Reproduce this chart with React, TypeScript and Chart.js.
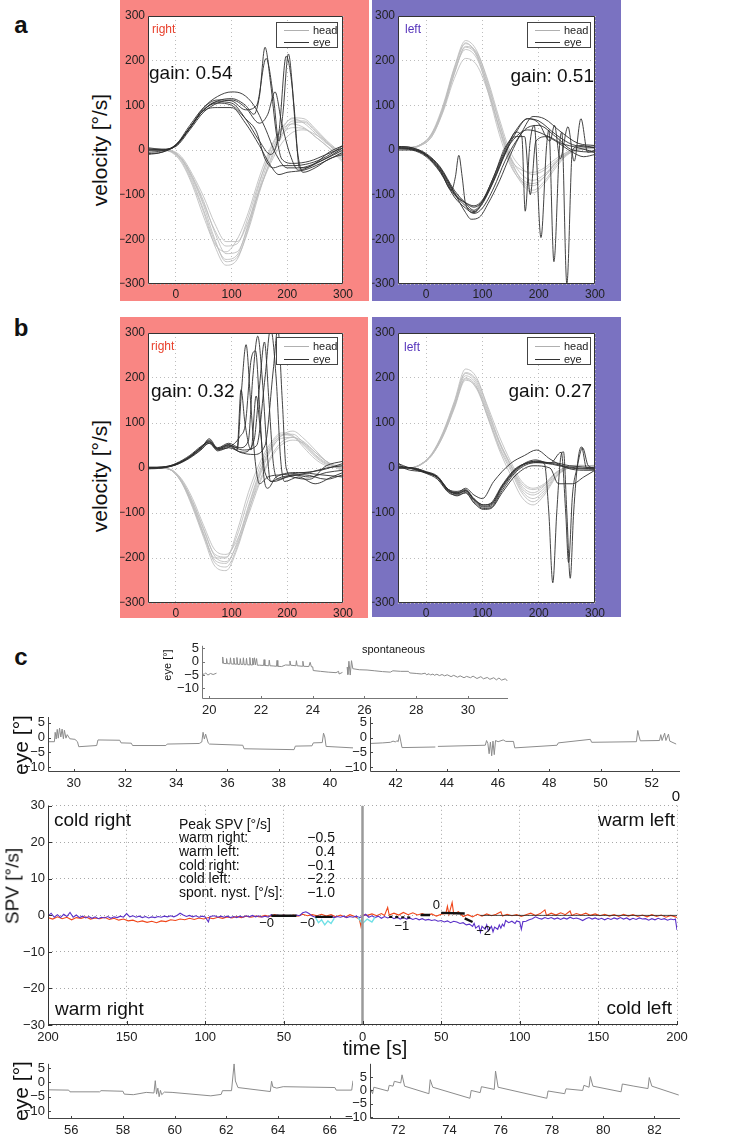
import React, { useEffect, useRef } from 'react';
import { Chart, registerables } from 'chart.js';
Chart.register(...registerables);

const FONT = "'Liberation Sans', Arial, sans-serif";
const NARROW = "'Liberation Sans Narrow', 'Liberation Sans', Arial, sans-serif";

type Pt = [number, number | null];

// ---------- panel a / b : head & eye velocity ----------
const HEAD_T = [-50, -30, -10, 10, 30, 50, 70, 90, 110, 130, 150, 170, 190, 210, 230, 250, 270, 300];
const VEL_X_TICKS = [0, 100, 200, 300];
const VEL_Y_TICKS = [-300, -200, -100, 0, 100, 200, 300];

const A_RIGHT_HEAD = [
  [0, 0, -2, -20, -65, -125, -200, -250, -240, -180, -95, -20, 35, 65, 65, 45, 20, -15],
  [0, 0, -3, -25, -75, -140, -215, -258, -245, -175, -85, -10, 45, 72, 70, 48, 22, -10],
  [0, 0, -2, -18, -60, -115, -185, -232, -228, -170, -90, -25, 30, 60, 62, 42, 18, -18],
  [0, 0, -4, -28, -80, -150, -210, -228, -200, -140, -60, 5, 50, 70, 60, 38, 15, -5],
  [0, 0, -1, -15, -55, -105, -165, -205, -205, -160, -90, -30, 15, 40, 45, 35, 18, -25],
  [0, 0, -3, -22, -70, -135, -205, -245, -235, -165, -75, 0, 45, 58, 50, 30, 10, -20],
  [0, 0, -2, -20, -62, -120, -180, -215, -210, -150, -70, -8, 35, 50, 48, 30, 10, -28],
];
const A_RIGHT_EYE: Pt[][] = [
  [[-50, -5], [-25, -2], [0, 10], [25, 50], [50, 90], [75, 110], [100, 115], [125, 100], [140, 80], [150, 120], [160, 230], [170, 150], [180, 40], [190, -20], [210, -30], [240, -25], [270, -10], [300, 5]],
  [[-50, 0], [-25, 0], [0, 12], [25, 55], [50, 95], [75, 112], [100, 110], [125, 90], [145, 100], [162, 205], [175, 120], [185, 20], [192, 80], [202, 215], [212, 100], [222, -40], [250, -30], [275, -15], [300, 5]],
  [[-50, 5], [-25, 2], [0, 8], [25, 45], [50, 85], [75, 105], [100, 112], [125, 95], [150, 60], [165, 80], [178, 130], [190, 60], [205, -10], [220, -45], [250, -30], [275, -5], [300, 10]],
  [[-50, -8], [-25, -5], [0, 10], [25, 50], [50, 88], [75, 95], [100, 95], [125, 60], [150, 10], [170, -35], [185, -55], [200, -50], [230, -45], [260, -30], [300, -5]],
  [[-50, -10], [-25, -5], [0, 12], [25, 50], [50, 95], [75, 120], [100, 130], [120, 125], [140, 100], [160, 50], [180, -10], [200, -40], [230, -40], [260, -25], [300, 0]],
  [[-50, 3], [-25, 0], [0, 10], [25, 48], [50, 90], [75, 108], [100, 105], [125, 70], [150, 20], [170, -10], [185, 40], [198, 210], [208, 150], [218, 0], [228, -50], [250, -40], [275, -20], [300, -10]],
  [[-50, 0], [-25, 0], [0, 10], [25, 50], [50, 90], [75, 105], [100, 100], [125, 70], [145, 40], [160, -20], [175, -40], [190, -35], [210, -35], [240, -30], [270, -15], [300, 10]],
];

const A_LEFT_HEAD = [
  [5, 5, 12, 35, 95, 180, 238, 215, 140, 50, -25, -65, -75, -60, -30, -10, 0, 5],
  [5, 5, 10, 30, 88, 170, 230, 212, 145, 60, -15, -55, -68, -55, -28, -8, 2, 8],
  [8, 6, 12, 38, 100, 185, 245, 222, 150, 62, -18, -70, -90, -70, -35, -10, 0, 5],
  [5, 5, 10, 30, 85, 160, 205, 190, 130, 50, -20, -45, -50, -40, -20, -5, 5, 10],
  [5, 5, 12, 35, 92, 175, 225, 205, 135, 45, -30, -75, -96, -75, -40, -12, 0, 3],
  [5, 5, 11, 33, 90, 172, 232, 218, 155, 70, -5, -40, -55, -45, -25, -5, 5, 8],
  [6, 6, 12, 36, 96, 182, 240, 210, 130, 35, -35, -70, -80, -60, -30, -8, 2, 5],
];
const A_LEFT_EYE: Pt[][] = [
  [[-50, 5], [-25, 2], [0, -12], [25, -45], [45, -90], [52, -60], [58, -12], [64, -60], [70, -120], [85, -140], [100, -118], [120, -70], [140, -10], [160, 40], [180, 70], [200, 65], [230, 35], [260, 12], [300, 5]],
  [[-50, 0], [-25, 0], [0, -12], [25, -45], [50, -98], [70, -125], [85, -138], [100, -120], [120, -68], [140, -8], [160, 40], [170, 30], [176, -137], [184, 10], [192, 55], [204, -196], [214, 10], [218, 45], [227, -250], [237, 10], [241, 40], [250, -300], [260, 0], [275, 10], [300, 5]],
  [[-50, 8], [-25, 5], [0, -10], [25, -40], [50, -95], [70, -120], [85, -135], [100, -115], [120, -60], [140, 0], [160, 45], [180, 70], [200, 60], [220, 20], [228, 55], [238, -20], [252, 52], [263, -25], [275, 70], [287, -5], [300, 0]],
  [[-50, 5], [-25, 3], [0, -10], [25, -42], [50, -95], [70, -140], [80, -155], [95, -150], [110, -120], [130, -70], [150, -10], [170, 40], [190, 75], [210, 70], [240, 40], [270, 15], [300, 10]],
  [[-50, 5], [-25, 2], [0, -12], [25, -48], [50, -100], [70, -118], [85, -125], [100, -112], [120, -60], [140, 5], [160, 30], [175, 30], [185, -100], [195, 20], [215, 30], [240, 15], [270, 5], [300, -5]],
  [[-50, 8], [-25, 5], [0, -8], [25, -38], [50, -90], [70, -118], [85, -128], [100, -115], [120, -65], [140, -5], [160, 30], [180, 45], [200, 40], [230, 20], [260, -5], [280, -15], [300, -10]],
  [[-50, 3], [-25, 0], [0, -15], [25, -50], [50, -105], [70, -130], [85, -142], [100, -130], [120, -85], [140, -25], [160, 20], [180, 50], [200, 55], [230, 30], [260, 0], [300, -5]],
];

const B_RIGHT_HEAD = [
  [0, 0, -4, -30, -80, -145, -205, -212, -165, -85, -10, 45, 72, 75, 55, 30, 12, 0],
  [0, 0, -4, -32, -88, -155, -218, -228, -180, -100, -20, 38, 72, 82, 65, 40, 15, -5],
  [0, 0, -3, -26, -74, -135, -192, -198, -150, -70, 0, 50, 74, 70, 50, 25, 8, 2],
  [0, 0, -4, -30, -82, -148, -200, -200, -140, -55, 10, 55, 78, 72, 45, 20, 5, 0],
  [0, 0, -3, -24, -68, -128, -182, -192, -160, -95, -30, 25, 58, 68, 58, 35, 15, -3],
  [0, 0, -4, -31, -85, -150, -210, -220, -175, -90, -15, 42, 66, 68, 52, 28, 10, 5],
  [0, 0, -3, -28, -76, -138, -196, -208, -170, -105, -35, 20, 52, 62, 55, 35, 15, -8],
];
const B_RIGHT_EYE: Pt[][] = [
  [[-50, 0], [-25, 2], [0, 8], [25, 25], [45, 45], [60, 62], [75, 42], [95, 52], [110, 40], [118, 175], [126, 274], [134, 150], [142, 20], [150, -35], [165, -20], [190, -15], [230, -10], [260, -5], [300, 10]],
  [[-50, -2], [-25, 0], [0, 10], [25, 28], [45, 48], [60, 58], [75, 45], [95, 55], [115, 45], [130, 60], [138, 200], [147, 293], [155, 200], [163, 50], [170, -30], [190, -20], [230, -15], [270, -25], [300, -15]],
  [[-50, 2], [-25, 2], [0, 7], [25, 22], [45, 40], [60, 55], [75, 38], [95, 45], [120, 35], [140, 60], [150, 180], [159, 280], [167, 150], [175, 10], [185, -25], [210, -15], [240, -20], [270, -10], [300, -5]],
  [[-50, 0], [-25, 0], [0, 9], [25, 24], [45, 44], [60, 60], [75, 42], [95, 50], [120, 40], [145, 50], [160, 200], [170, 310], [180, 200], [188, 20], [195, -30], [220, -20], [250, -35], [280, -20], [300, -10]],
  [[-50, 0], [-25, 1], [0, 8], [25, 26], [45, 46], [60, 58], [75, 40], [95, 48], [115, 35], [140, 30], [160, 50], [175, 220], [183, 310], [191, 150], [198, 0], [210, -20], [240, -25], [270, 5], [300, 15]],
  [[-50, 1], [-25, 1], [0, 7], [25, 24], [45, 42], [60, 65], [75, 44], [95, 52], [110, 45], [117, 174], [124, 100], [135, 40], [144, 160], [152, 80], [160, -10], [175, -30], [200, -20], [240, -10], [270, 0], [300, 5]],
  [[-50, 0], [-25, 2], [0, 9], [25, 25], [45, 45], [60, 55], [75, 42], [95, 46], [115, 70], [125, 100], [135, 240], [143, 260], [151, 120], [158, -20], [165, -45], [180, -20], [220, -10], [260, -15], [300, -20]],
];

const B_LEFT_HEAD = [
  [0, 0, 8, 30, 75, 140, 205, 185, 120, 55, 5, -45, -60, -45, -15, 0, 5, 5],
  [0, 0, 8, 32, 80, 148, 220, 200, 130, 60, 8, -40, -55, -40, -12, 2, 5, 3],
  [0, 0, 7, 28, 70, 132, 195, 178, 115, 45, -5, -55, -75, -55, -20, -2, 5, 5],
  [0, 0, 8, 31, 78, 145, 212, 195, 135, 70, 15, -30, -45, -35, -10, 2, 6, 5],
  [0, 0, 7, 29, 72, 135, 200, 180, 110, 40, -15, -65, -82, -60, -22, 0, 4, 6],
  [0, 0, 8, 30, 76, 142, 210, 190, 125, 58, 8, -35, -48, -38, -12, 3, 6, 5],
  [0, 0, 7, 28, 72, 136, 198, 175, 112, 48, 0, -50, -68, -50, -18, 0, 5, 4],
];
const B_LEFT_EYE: Pt[][] = [
  [[-50, 5], [-30, 0], [0, -10], [20, -20], [40, -50], [55, -58], [70, -50], [85, -72], [102, -87], [115, -85], [135, -45], [160, -5], [195, 15], [225, 10], [255, 2], [300, -2]],
  [[-50, 10], [-40, 5], [-30, 0], [0, -12], [20, -25], [40, -55], [55, -60], [70, -55], [85, -75], [102, -90], [115, -88], [135, -50], [160, -8], [195, 12], [225, 12], [255, 5], [300, 0]],
  [[-50, 12], [-40, 0], [0, -10], [20, -22], [40, -52], [55, -55], [70, -45], [85, -60], [100, -68], [120, -30], [150, 10], [175, 28], [196, 40], [220, 20], [250, 0], [280, -5], [300, -5]],
  [[-50, 0], [-25, 0], [0, -8], [20, -18], [40, -48], [55, -52], [70, -48], [85, -68], [102, -82], [115, -80], [135, -40], [160, -2], [195, 15], [210, 10], [218, -100], [225, -255], [232, -100], [240, 30], [244, 36], [250, -100], [256, -245], [262, -100], [270, 20], [276, 47], [285, 0], [300, 0]],
  [[-50, 0], [-25, 0], [0, -9], [20, -20], [40, -52], [55, -62], [70, -55], [85, -78], [102, -92], [115, -90], [135, -55], [160, -15], [190, 5], [220, 0], [235, -35], [260, -35], [280, -20], [300, -5]],
  [[-50, 2], [-25, 0], [0, -11], [20, -21], [40, -50], [55, -57], [70, -52], [85, -70], [102, -85], [115, -82], [135, -42], [160, -3], [195, 18], [220, 10], [240, 35], [248, -100], [253, -210], [260, -60], [268, 0], [278, 45], [288, 5], [300, 0]],
  [[-50, 3], [-25, 0], [0, -10], [20, -20], [40, -48], [55, -55], [70, -50], [85, -70], [102, -82], [115, -78], [135, -38], [160, 0], [195, 12], [225, 8], [255, 0], [300, -3]],
];

// ---------- panel c : eye position traces ----------
const EYE_Y_TICKS = [-10, -5, 0, 5];
const SPONT_X_TICKS = [20, 22, 24, 26, 28, 30];
const ROW2L_X_TICKS = [30, 32, 34, 36, 38, 40];
const ROW2R_X_TICKS = [42, 44, 46, 48, 50, 52];
const BOTL_X_TICKS = [56, 58, 60, 62, 64, 66];
const BOTR_X_TICKS = [72, 74, 76, 78, 80, 82];

const SPONT: Pt[] = [
  [19.72, -4.3], [19.8, -4.8], [19.86, -4.2], [19.95, -5.0], [20.05, -4.4], [20.15, -4.8], [20.28, -4.3], [20.35, null],
  [20.5, -0.5], [20.52, 1.8], [20.55, -0.6], [20.65, -0.7], [20.67, 1.2], [20.7, -0.7], [20.8, -0.8], [20.82, 1.5], [20.85, -0.8], [20.93, -0.9], [20.95, 1.4], [20.98, -0.9],
  [21.05, -0.9], [21.07, 1.6], [21.1, -1.0], [21.18, -1.0], [21.2, 1.2], [21.23, -1.0], [21.3, -1.0], [21.32, 1.5], [21.35, -1.1], [21.42, -1.1], [21.44, 1.3], [21.47, -1.1],
  [21.55, -1.2], [21.57, 1.6], [21.6, -1.2], [21.66, -1.2], [21.68, 1.4], [21.7, -1.2], [21.75, 1.5], [21.78, -1.2], [21.83, 1.2], [21.86, -1.3], [21.95, -1.3],
  [22.1, -1.4], [22.12, 0.8], [22.15, -1.4], [22.3, -1.5], [22.32, 0.6], [22.35, -1.5], [22.5, -1.6], [22.6, -1.7], [22.62, 0.5], [22.65, -1.7], [22.8, -1.8], [22.95, -1.2],
  [23.1, -1.3], [23.12, 0.3], [23.15, -1.3], [23.35, -1.5], [23.37, 0.4], [23.4, -1.5], [23.6, -1.7], [23.62, 0.2], [23.65, -1.7], [23.85, -1.8], [23.9, -0.2], [23.95, -1.9],
  [24.0, -1.9], [24.02, -3.3], [24.3, -3.6], [24.6, -3.9], [24.9, -4.1], [25.0, -3.6], [25.02, -4.6], [25.15, -4.0], [25.2, null],
  [25.33, -2.0], [25.36, -4.8], [25.4, 0.2], [25.45, -5.0], [25.5, 0.4], [25.55, -2.6], [25.8, -3.0], [26.1, -3.1], [26.4, -3.4], [26.7, -3.7], [27.0, -3.9], [27.1, -3.4],
  [27.4, -3.6], [27.7, -3.6], [27.75, -4.2], [28.0, -4.4], [28.2, -4.6], [28.35, -4.3], [28.4, -4.9], [28.5, -4.5], [28.55, -5.0], [28.65, -4.6], [28.7, -5.1], [28.8, -4.7],
  [28.9, -5.2], [29.0, -4.8], [29.1, -5.3], [29.2, -4.9], [29.35, -5.6], [29.45, -5.1], [29.6, -5.8], [29.7, -5.3], [29.85, -6.0], [29.95, -5.5], [30.1, -6.0], [30.2, -5.4],
  [30.35, -6.3], [30.5, -5.6], [30.6, -6.4], [30.75, -5.9], [30.85, -6.6], [31.0, -6.0], [31.1, -6.8], [31.2, -6.1], [31.3, -6.9], [31.45, -6.4], [31.52, -7.2],
];
const EYE_ROW2_LEFT: Pt[] = [
  [29.0, -1.4], [29.25, -1.4], [29.28, 1.8], [29.32, -0.5], [29.36, 2.8], [29.4, -0.2], [29.45, 3.2], [29.5, 0.2], [29.55, 2.9], [29.6, -0.4], [29.64, 2.5], [29.7, -0.2],
  [29.75, 1.0], [29.85, -0.4], [30.05, -0.6], [30.15, -1.4], [30.2, -3.1], [30.9, -2.7], [30.95, -0.8], [31.8, -0.9], [31.85, -1.8], [32.25, -1.9], [32.3, -2.7],
  [33.6, -2.7], [33.65, -2.2], [34.9, -2.0], [35.0, -1.5], [35.05, 1.8], [35.1, -0.5], [35.15, 1.2], [35.25, -1.8], [35.3, -2.2], [36.6, -2.6], [36.65, -3.8],
  [38.6, -4.1], [38.65, -2.9], [39.3, -2.8], [39.35, -1.8], [39.7, -1.7], [39.75, 1.5], [39.8, 0.2], [39.85, -3.0], [40.9, -3.5],
];
const EYE_ROW2_RIGHT: Pt[] = [
  [41.0, -2.0], [41.5, -1.8], [41.8, -1.6], [41.9, -1.2], [42.0, -1.5], [42.05, -1.0], [42.1, -1.4], [42.15, 1.0], [42.2, -1.2], [42.25, -3.4], [43.55, -3.2], [43.6, null],
  [43.65, -3.0], [45.5, -2.6], [45.55, -1.0], [45.6, -2.0], [45.65, -5.5], [45.7, -1.5], [45.75, -6.2], [45.8, -1.2], [45.85, -5.8], [45.9, -1.0], [46.0, -1.4], [46.2, -0.8],
  [46.3, -1.3], [46.6, -1.3], [46.65, -3.5], [48.3, -2.6], [48.35, -1.8], [49.6, -0.6], [49.65, -1.6], [51.4, -1.4], [51.45, 2.4], [51.5, 0.5], [51.55, -1.1], [52.3, -1.0],
  [52.35, 1.0], [52.4, -1.0], [52.5, 1.5], [52.55, -1.0], [52.65, 1.2], [52.7, -1.2], [52.95, -2.2],
];
const EYE_BOT_LEFT: Pt[] = [
  [55.1, -2.6], [55.9, -2.7], [55.95, -3.3], [57.1, -3.3], [57.15, -2.9], [58.0, -3.1], [58.05, -4.1], [58.4, -4.3], [58.9, -3.5], [59.2, -3.7], [59.25, 0.6], [59.3, -4.1],
  [59.35, -2.0], [59.4, -5.0], [59.45, -2.8], [59.5, -4.3], [59.6, -3.4], [59.9, -3.5], [61.4, -4.7], [61.8, -4.2], [61.85, -2.9], [62.2, -2.9], [62.3, 6.5], [62.35, 0.5],
  [62.45, -1.8], [63.7, -3.2], [63.75, 0.4], [63.8, -1.6], [63.95, -2.0], [64.2, -1.5], [66.2, -1.8], [66.25, -2.7], [66.85, -2.7], [66.9, 0.6],
];
const EYE_BOT_RIGHT: Pt[] = [
  [70.9, 1.0], [71.0, -1.2], [71.05, 1.2], [71.6, -0.2], [71.65, 1.9], [71.8, 1.6], [71.85, 3.4], [72.1, 2.8], [72.15, 5.8], [72.25, 1.6], [73.2, -1.2], [73.25, 4.0],
  [73.35, 1.2], [74.8, -2.9], [74.85, 0.0], [75.2, -0.8], [75.25, 1.4], [75.75, 0.4], [75.8, 7.2], [75.9, 1.2], [77.8, -2.9], [77.85, -0.2], [78.5, -1.2], [78.55, 0.6],
  [79.2, 0.0], [79.25, 1.9], [79.45, 1.2], [79.5, 5.2], [79.6, 1.6], [80.7, -0.5], [80.75, 2.4], [81.2, 1.6], [81.75, 0.7], [81.8, 4.8], [81.9, 1.6], [82.95, -1.7],
];

// ---------- panel c : slow phase velocity ----------
const SPV_X_TICKS = [-200, -150, -100, -50, 0, 50, 100, 150, 200];
const SPV_Y_TICKS = [-30, -20, -10, 0, 10, 20, 30];
const SPV_RED: Pt[] = [
  [-200, -0.6], [-197, -1.0], [-194, -0.4], [-191, -0.9], [-188, -0.5], [-185, -1.2], [-182, -0.6], [-179, -0.8], [-176, -0.4], [-173, -1.0], [-170, -0.7], [-167, -0.9],
  [-164, -0.5], [-161, -1.1], [-158, -0.8], [-155, -1.3], [-152, -1.0], [-149, -1.5], [-146, -1.3], [-143, -1.8], [-140, -1.5], [-137, -1.9], [-134, -1.6], [-131, -2.0],
  [-128, -1.5], [-125, -1.7], [-122, -1.2], [-119, -1.4], [-116, -1.0], [-113, -1.2], [-110, -0.8], [-107, -1.1], [-104, -0.7], [-101, -1.0], [-98, -0.6], [-95, -0.9],
  [-92, -0.5], [-89, -0.8], [-86, -0.4], [-83, -0.7], [-80, -0.3], [-77, -0.6], [-74, -0.2], [-71, -0.5], [-68, -0.2], [-65, -0.4], [-62, 0.0], [-59, -0.3], [-56, 0.2],
  [-53, -0.2], [-50, 0.1], [-47, -0.3], [-44, 0.1], [-41, -0.2], [-38, 0.3], [-35, -0.1], [-32, 0.2], [-29, -0.1], [-26, 0.3], [-23, -0.2], [-20, 0.2], [-17, -0.4],
  [-14, 0.1], [-11, -0.5], [-8, 0.2], [-5, -0.3], [-2, -1.0], [-1, -3.0], [0, 0.2],
  [3, 0.0], [6, 0.4], [9, -0.1], [12, 0.5], [14, 0.0], [16, 2.2], [17, 0.1], [20, 0.6], [23, 0.1], [26, 0.8], [29, 0.2], [32, 0.7], [35, 0.1], [38, 0.5], [41, 0.0],
  [44, 0.4], [47, -0.2], [50, 0.3], [53, 0.5], [54, 2.5], [55, 0.3], [57, 3.5], [58, 0.4], [61, 1.0], [64, -0.3], [67, 0.2], [70, -0.4], [73, 0.3], [76, -0.2], [79, 0.4],
  [82, -0.1], [85, 0.3], [88, 1.0], [89, -0.2], [92, 0.3], [95, -0.1], [98, 0.2], [101, -0.3], [104, 0.2], [107, 0.6], [110, 0.0], [113, 0.5], [116, 1.5], [117, 0.0],
  [120, 0.6], [123, 0.1], [126, 0.7], [129, 0.2], [132, 1.2], [133, 0.0], [136, 0.5], [139, 0.1], [142, 0.6], [145, 0.0], [148, 0.4], [151, -0.1], [154, 0.3], [157, -0.2],
  [160, 0.2], [163, -0.3], [166, 0.3], [169, -0.2], [172, 0.2], [175, -0.3], [178, 0.1], [181, -0.4], [184, 0.2], [187, -0.3], [190, 0.1], [193, -0.5], [196, 0.0],
  [199, -0.4], [200, -0.6],
];
const SPV_PURPLE: Pt[] = [
  [-200, -0.2], [-198, 0.6], [-196, -0.5], [-194, 0.2], [-192, -0.6], [-190, 0.3], [-188, -0.3], [-186, 0.8], [-184, -0.5], [-182, 0.1], [-180, -0.6], [-178, -0.2],
  [-176, -0.7], [-174, -0.3], [-172, -0.8], [-170, -0.4], [-168, -0.9], [-166, -0.5], [-164, -0.7], [-162, -0.3], [-160, -0.8], [-158, -0.4], [-156, -0.6], [-154, -0.2],
  [-152, -0.5], [-150, 0.5], [-148, -0.4], [-146, -0.1], [-144, -0.5], [-142, -0.2], [-140, -0.6], [-138, -0.3], [-136, -0.7], [-134, -0.4], [-132, -0.6], [-130, -0.3],
  [-128, -0.5], [-126, -0.2], [-124, -0.4], [-122, -0.1], [-120, -0.4], [-118, 0.0], [-116, 0.6], [-114, 0.1], [-112, -0.3], [-110, 0.0], [-108, -0.4], [-106, -0.1],
  [-104, -0.5], [-102, -0.2], [-100, -0.4], [-98, -1.8], [-97, -0.3], [-94, -0.1], [-92, -0.5], [-90, -0.2], [-88, -0.5], [-86, -0.2], [-84, -0.6], [-82, -0.3],
  [-80, -0.6], [-78, -0.2], [-76, -0.5], [-74, -0.1], [-72, -0.4], [-70, 0.0], [-68, -0.4], [-66, -0.1], [-64, -0.5], [-62, -0.2], [-60, -0.5], [-58, 0.2], [-56, -0.3],
  [-54, 0.1], [-52, -0.2], [-50, 0.1], [-48, -0.3], [-46, 0.0], [-44, -0.2], [-42, 0.1], [-40, -0.1], [-38, 0.7], [-36, 1.0], [-34, 0.5], [-32, -0.2], [-30, -0.5],
  [-28, -0.2], [-26, -0.6], [-24, -0.3], [-22, -0.5], [-20, -0.2], [-18, -0.6], [-16, -0.3], [-14, -0.5], [-12, -0.2], [-10, -0.6], [-8, -0.3], [-6, -0.5], [-4, -0.2],
  [-2, -0.6], [0, -0.3],
  [2, 0.3], [4, -0.5], [6, -0.1], [8, -0.6], [10, -0.2], [12, -0.8], [14, -0.3], [16, -0.7], [18, -0.4], [20, -0.9], [22, -0.5], [24, -1.0], [26, -0.6], [28, -1.0],
  [30, -0.7], [32, -1.1], [34, -0.8], [36, -1.2], [38, -0.9], [40, -1.3], [42, -1.1], [44, -1.4], [46, -1.2], [48, -1.6], [50, -1.4], [52, -1.8], [54, -1.5], [56, -2.0],
  [58, -1.6], [60, -1.8], [62, -2.2], [64, -2.0], [66, -2.6], [68, -2.4], [70, -3.0], [71, -2.2], [72, -3.5], [74, -2.8], [75, -4.6], [76, -3.0], [78, -3.8], [79, -2.6],
  [80, -4.2], [82, -3.0], [83, -4.5], [84, -3.2], [86, -3.8], [87, -2.6], [88, -3.5], [89, -2.4], [90, -3.0], [91, -1.4], [93, -2.0], [95, -1.6], [97, -2.2], [98, -1.5],
  [100, -1.8], [101, -3.8], [102, -1.7], [104, -1.6], [106, -1.2], [108, -0.9], [110, -0.4], [112, -0.8], [114, -1.0], [116, -0.6], [118, -0.9], [120, -0.6],
  [122, -1.0], [124, -0.7], [126, -1.1], [128, -0.7], [130, -1.0], [132, -0.5], [134, -0.9], [136, -0.7], [138, -1.0], [140, -1.4], [142, -0.9], [144, -0.6],
  [146, -1.0], [148, -0.7], [150, -1.1], [152, -0.8], [154, -1.2], [156, -0.8], [158, -1.1], [160, -0.7], [162, -1.0], [164, -0.6], [166, -1.0], [168, -0.7],
  [170, -1.2], [172, -0.8], [174, -1.1], [176, -0.7], [178, -1.0], [180, -0.9], [182, -1.3], [184, -0.9], [186, -1.2], [188, -0.8], [190, -1.1], [192, -0.9],
  [194, -1.3], [196, -1.0], [198, -1.2], [199, -1.0], [200, -4.0],
];
const SPV_CYAN: Pt[] = [
  [-30, -0.5], [-28, -2.0], [-26, -1.2], [-24, -2.6], [-22, -1.5], [-20, -2.2], [-18, -0.8], [-17, null],
  [-3, -0.5], [0, -2.2], [3, -1.0], [6, -1.8], [8, -0.5],
];
const FIT_SEGMENTS: Pt[][] = [
  [[-58, -0.1], [-42, -0.1]],
  [[-30, -0.4], [-19, -0.4]],
  [[37, 0.1], [43, 0.1]],
  [[50, 0.7], [65, 0.5]],
  [[65, -0.8], [70, -1.8]],
];
const FIT_DASHED: Pt[] = [[17, -0.4], [32, -0.6]];
const ZERO_REF: Pt[] = [[75, 0], [200, 0]];
const ONSET_LINE: Pt[] = [[0, -30], [0, 30]];
const FIT_LABELS: [number, number, string][] = [
  [-61, -2.3, '\u22120'], [-35, -2.3, '\u22120'], [25, -3.1, '\u22121'], [47, 2.6, '0'], [77, -4.4, '\u22122'],
];
const PEAK_ROWS = ['warm right:', 'warm left:', 'cold right:', 'cold left:', 'spont. nyst. [\u00b0/s]:'];
const PEAK_VALUES = ['\u22120.5', '0.4', '\u22120.1', '\u22122.2', '\u22121.0'];

// ---------- helpers ----------
const HEAD_COLOR = '#bcbcbc';
const EYE_COLOR = '#2e2e2e';
const PINK = '#f98683';
const PURPLE = '#7a72c1';

const fmt = (v: number) => (v < 0 ? '\u2212' + Math.abs(v) : String(v));
const toXY = (arr: Pt[]) => arr.map(([x, y]) => ({ x, y }));
const gridXY = (t: number[], ys: number[]) => t.map((x, i) => ({ x, y: ys[i] }));

const bgPlugin = (outer: string | null, inner: string | null) => ({
  id: 'bgFill',
  beforeDraw(chart: any) {
    const { ctx, chartArea: a } = chart;
    ctx.save();
    if (outer) { ctx.fillStyle = outer; ctx.fillRect(0, 0, chart.width, chart.height); }
    if (inner) { ctx.fillStyle = inner; ctx.fillRect(a.left, a.top, a.right - a.left, a.bottom - a.top); }
    ctx.restore();
  },
});

const framePlugin = (box: boolean, color: string, tickLen: number) => ({
  id: 'frame',
  afterDatasetsDraw(chart: any) {
    const { ctx, chartArea: a, scales } = chart;
    ctx.save();
    ctx.strokeStyle = color;
    ctx.lineWidth = 1;
    ctx.setLineDash([]);
    ctx.beginPath();
    if (box) ctx.rect(a.left + 0.5, a.top + 0.5, a.right - a.left - 1, a.bottom - a.top - 1);
    else {
      ctx.moveTo(a.left + 0.5, a.top);
      ctx.lineTo(a.left + 0.5, a.bottom - 0.5);
      ctx.lineTo(a.right, a.bottom - 0.5);
    }
    ctx.stroke();
    if (tickLen > 0) {
      ctx.beginPath();
      scales.x.ticks.forEach((t: any) => {
        const px = Math.round(scales.x.getPixelForValue(t.value)) + 0.5;
        ctx.moveTo(px, a.bottom); ctx.lineTo(px, a.bottom - tickLen);
      });
      scales.y.ticks.forEach((t: any) => {
        const py = Math.round(scales.y.getPixelForValue(t.value)) + 0.5;
        ctx.moveTo(a.left, py); ctx.lineTo(a.left + tickLen, py);
      });
      ctx.stroke();
    }
    ctx.restore();
  },
});

const labelPlugin = (items: [number, number, string][], font: string) => ({
  id: 'fitLabels',
  afterDatasetsDraw(chart: any) {
    const { ctx, scales } = chart;
    ctx.save();
    ctx.font = font;
    ctx.fillStyle = '#111';
    ctx.textAlign = 'center';
    ctx.textBaseline = 'middle';
    items.forEach(([x, y, s]) => ctx.fillText(s, scales.x.getPixelForValue(x), scales.y.getPixelForValue(y)));
    ctx.restore();
  },
});

interface Geo { yW: number; xH: number; top: number; right: number; }

function axis(min: number, max: number, ticks: number[], fit: (s: any) => void, opt: any) {
  return {
    type: 'linear',
    min, max,
    afterBuildTicks: (ax: any) => { ax.ticks = ticks.map((v) => ({ value: v })); },
    afterFit: fit,
    grid: { display: opt.grid, color: opt.gridColor || '#bdbdbd', drawTicks: false, lineWidth: 1 },
    border: { display: false, dash: [1, 3] },
    ticks: {
      padding: opt.pad ?? 3,
      color: opt.tickColor || '#222',
      font: { family: opt.family || FONT, size: opt.size || 12 },
      maxRotation: 0, autoSkip: false,
      callback: opt.cb || ((v: number) => fmt(v)),
    },
  };
}

function baseOptions(geo: Geo, xs: any, ys: any) {
  return {
    animation: false,
    responsive: false,
    maintainAspectRatio: false,
    events: [],
    layout: { padding: { top: geo.top, right: geo.right, left: 0, bottom: 0 } },
    plugins: { legend: { display: false }, tooltip: { enabled: false } },
    scales: { x: xs, y: ys },
  };
}

function velocityConfig(heads: number[][], eyes: Pt[][], geo: Geo, bg: string) {
  const datasets = [
    ...eyes.map((e) => ({ data: toXY(e), borderColor: EYE_COLOR, borderWidth: 0.9, cubicInterpolationMode: 'monotone', pointRadius: 0, order: 0 })),
    ...heads.map((h) => ({ data: gridXY(HEAD_T, h), borderColor: HEAD_COLOR, borderWidth: 0.85, cubicInterpolationMode: 'monotone', pointRadius: 0, order: 1 })),
  ];
  return {
    type: 'line',
    data: { datasets },
    options: baseOptions(
      geo,
      axis(-50, 300, VEL_X_TICKS, (s: any) => { s.height = geo.xH; }, { grid: true }),
      axis(-300, 300, VEL_Y_TICKS, (s: any) => { s.width = geo.yW; }, { grid: true }),
    ),
    plugins: [bgPlugin(bg, '#ffffff'), framePlugin(true, '#333', 0)],
  };
}

function eyeConfig(pts: Pt[], xr: [number, number], yr: [number, number], xticks: number[], geo: Geo, axisColor: string, size: number) {
  return {
    type: 'line',
    data: { datasets: [{ data: toXY(pts), borderColor: '#8c8c8c', borderWidth: 1, pointRadius: 0, tension: 0, spanGaps: false }] },
    options: baseOptions(
      geo,
      axis(xr[0], xr[1], xticks, (s: any) => { s.height = geo.xH; }, { grid: false, pad: 4, family: NARROW, size }),
      axis(yr[0], yr[1], EYE_Y_TICKS, (s: any) => { s.width = geo.yW; }, { grid: false, pad: 3, family: NARROW, size }),
    ),
    plugins: [framePlugin(false, axisColor, 3)],
  };
}

function spvConfig(geo: Geo) {
  const line = (data: Pt[], color: string, width: number, order: number, extra: any = {}) => ({
    data: toXY(data), borderColor: color, borderWidth: width, pointRadius: 0, tension: 0, spanGaps: false, order, ...extra,
  });
  const datasets = [
    line(ONSET_LINE, '#9a9a9a', 2.5, 0),
    ...FIT_SEGMENTS.map((s) => line(s, '#111', 2.4, 1)),
    line(FIT_DASHED, '#111', 2.2, 1, { borderDash: [3, 3] }),
    line(ZERO_REF, '#222', 0.8, 2),
    line(SPV_CYAN, '#6fe0e6', 1.4, 3),
    line(SPV_PURPLE, '#5a30c8', 1.1, 4),
    line(SPV_RED, '#f0461a', 1.1, 5),
  ];
  return {
    type: 'line',
    data: { datasets },
    options: baseOptions(
      geo,
      axis(-200, 200, SPV_X_TICKS, (s: any) => { s.height = geo.xH; }, { grid: true, gridColor: '#a8a8a8', pad: 5, family: NARROW, size: 13, cb: (v: number) => String(Math.abs(v)) }),
      axis(-30, 30, SPV_Y_TICKS, (s: any) => { s.width = geo.yW; }, { grid: true, gridColor: '#a8a8a8', pad: 3, family: NARROW, size: 13 }),
    ),
    plugins: [framePlugin(false, '#333', 4), labelPlugin(FIT_LABELS, `13px ${NARROW}`)],
  };
}

// ---------- components ----------
interface Box { l: number; t: number; w: number; h: number; }

function ChartBox({ box, build }: { box: Box; build: () => any }) {
  const ref = useRef<HTMLCanvasElement>(null);
  useEffect(() => {
    const chart = new Chart(ref.current as HTMLCanvasElement, build());
    return () => chart.destroy();
  }, []);
  return (
    <canvas
      ref={ref}
      width={box.w}
      height={box.h}
      style={{ position: 'absolute', left: box.l, top: box.t, width: box.w, height: box.h }}
    />
  );
}

function Txt(props: {
  x: number; y: number; text: string; size?: number; color?: string;
  align?: 'left' | 'center' | 'right'; weight?: number; rotate?: boolean; family?: string;
}) {
  const { x, y, text, size = 12, color = '#111', align = 'left', weight = 400, rotate = false, family = FONT } = props;
  const tx = align === 'left' ? '0' : align === 'center' ? '-50%' : '-100%';
  const transform = rotate ? 'translate(-50%,-50%) rotate(-90deg)' : `translate(${tx},-50%)`;
  return (
    <div
      style={{
        position: 'absolute', left: x, top: y, transform, fontSize: size, color, fontWeight: weight,
        fontFamily: family, whiteSpace: 'nowrap', lineHeight: 1,
      }}
    >
      {text}
    </div>
  );
}

function Legend({ l, t, w, h }: Box) {
  const row = (y: number, color: string, label: string) => (
    <>
      <div style={{ position: 'absolute', left: 7, top: y, width: 25, height: 0, borderTop: `1px solid ${color}` }} />
      <div style={{ position: 'absolute', left: 36, top: y, transform: 'translateY(-50%)', fontSize: 11, fontFamily: FONT, lineHeight: 1, color: '#222' }}>{label}</div>
    </>
  );
  return (
    <div style={{ position: 'absolute', left: l, top: t, width: w - 2, height: h - 2, border: '1px solid #444', background: '#fff' }}>
      {row(Math.round(h * 0.28), '#b0b0b0', 'head')}
      {row(Math.round(h * 0.74), '#333', 'eye')}
    </div>
  );
}

export default function App() {
  return (
    <div style={{ position: 'absolute', left: 0, top: 0, width: 741, height: 1136, background: '#fff', overflow: 'hidden' }}>
      {/* panel a */}
      <ChartBox box={{ l: 120, t: 0, w: 249, h: 301 }} build={() => velocityConfig(A_RIGHT_HEAD, A_RIGHT_EYE, { yW: 28, xH: 17, top: 16, right: 26 }, PINK)} />
      <ChartBox box={{ l: 372, t: 0, w: 249, h: 301 }} build={() => velocityConfig(A_LEFT_HEAD, A_LEFT_EYE, { yW: 26, xH: 17, top: 16, right: 26 }, PURPLE)} />
      {/* panel b */}
      <ChartBox box={{ l: 120, t: 317, w: 248, h: 301 }} build={() => velocityConfig(B_RIGHT_HEAD, B_RIGHT_EYE, { yW: 28, xH: 15, top: 16, right: 25 }, PINK)} />
      <ChartBox box={{ l: 372, t: 317, w: 249, h: 300 }} build={() => velocityConfig(B_LEFT_HEAD, B_LEFT_EYE, { yW: 26, xH: 14, top: 16, right: 26 }, PURPLE)} />

      <Txt x={21} y={25} text="a" size={24} weight={700} align="center" />
      <Txt x={21} y={328} text="b" size={24} weight={700} align="center" />
      <Txt x={21} y={657} text="c" size={24} weight={700} align="center" />

      <Txt x={99} y={150} text="velocity [°/s]" size={21} rotate />
      <Txt x={99} y={476} text="velocity [°/s]" size={21} rotate />

      <Txt x={152} y={29} text="right" size={12} color="#e8402c" />
      <Txt x={405} y={29} text="left" size={12} color="#5533bb" />
      <Txt x={151} y={346} text="right" size={12} color="#e8402c" />
      <Txt x={404} y={347} text="left" size={12} color="#5533bb" />

      <Txt x={149} y={72} text="gain: 0.54" size={19} />
      <Txt x={594} y={75} text="gain: 0.51" size={19} align="right" />
      <Txt x={151} y={390} text="gain: 0.32" size={19} />
      <Txt x={592} y={390} text="gain: 0.27" size={19} align="right" />

      <Legend l={276} t={22} w={62} h={26} />
      <Legend l={527} t={22} w={64} h={26} />
      <Legend l={276} t={337} w={62} h={28} />
      <Legend l={527} t={337} w={64} h={28} />

      {/* panel c : eye traces */}
      <ChartBox box={{ l: 150, t: 635, w: 370, h: 85 }} build={() => eyeConfig(SPONT, [19.72, 31.55], [-14, 6], SPONT_X_TICKS, { yW: 52, xH: 21, top: 8, right: 12 }, '#777', 13)} />
      <ChartBox box={{ l: 0, t: 705, w: 362, h: 90 }} build={() => eyeConfig(EYE_ROW2_LEFT, [29, 40.9], [-11.7, 7], ROW2L_X_TICKS, { yW: 48, xH: 23, top: 12, right: 9 }, '#444', 13)} />
      <ChartBox box={{ l: 335, t: 705, w: 355, h: 90 }} build={() => eyeConfig(EYE_ROW2_RIGHT, [41, 53.1], [-11.7, 7], ROW2R_X_TICKS, { yW: 35, xH: 23, top: 12, right: 10 }, '#444', 13)} />
      <ChartBox box={{ l: 0, t: 1053, w: 362, h: 83 }} build={() => eyeConfig(EYE_BOT_LEFT, [55.1, 66.9], [-12.8, 6.5], BOTL_X_TICKS, { yW: 48, xH: 17, top: 10, right: 9 }, '#444', 13)} />
      <ChartBox box={{ l: 335, t: 1053, w: 355, h: 83 }} build={() => eyeConfig(EYE_BOT_RIGHT, [70.9, 83], [-10.6, 9.9], BOTR_X_TICKS, { yW: 35, xH: 17, top: 10, right: 10 }, '#444', 13)} />

      <Txt x={362} y={649} text="spontaneous" size={11} />
      <Txt x={167} y={665} text="eye [°]" size={11} rotate />
      <Txt x={20} y={745} text="eye [°]" size={21} rotate />
      <Txt x={20} y={1091} text="eye [°]" size={21} rotate />
      <Txt x={676} y={795} text="0" size={15} align="center" />

      {/* panel c : SPV */}
      <ChartBox box={{ l: 0, t: 795, w: 700, h: 250 }} build={() => spvConfig({ yW: 48, xH: 20, top: 10, right: 23 })} />
      <Txt x={12} y={886} text="SPV [°/s]" size={19} rotate />
      <Txt x={375} y={1048} text="time [s]" size={20} align="center" family={NARROW} />
      <Txt x={54} y={819} text="cold right" size={19} family={NARROW} />
      <Txt x={675} y={819} text="warm left" size={19} align="right" family={NARROW} />
      <Txt x={55} y={1008} text="warm right" size={19} family={NARROW} />
      <Txt x={672} y={1007} text="cold left" size={19} align="right" family={NARROW} />
      <Txt x={179} y={824} text="Peak SPV [°/s]" size={14} family={NARROW} />
      {PEAK_ROWS.map((r, i) => (
        <React.Fragment key={r}>
          <Txt x={179} y={837 + i * 13.8} text={r} size={14} family={NARROW} />
          <Txt x={335} y={837 + i * 13.8} text={PEAK_VALUES[i]} size={14} align="right" family={NARROW} />
        </React.Fragment>
      ))}
    </div>
  );
}
